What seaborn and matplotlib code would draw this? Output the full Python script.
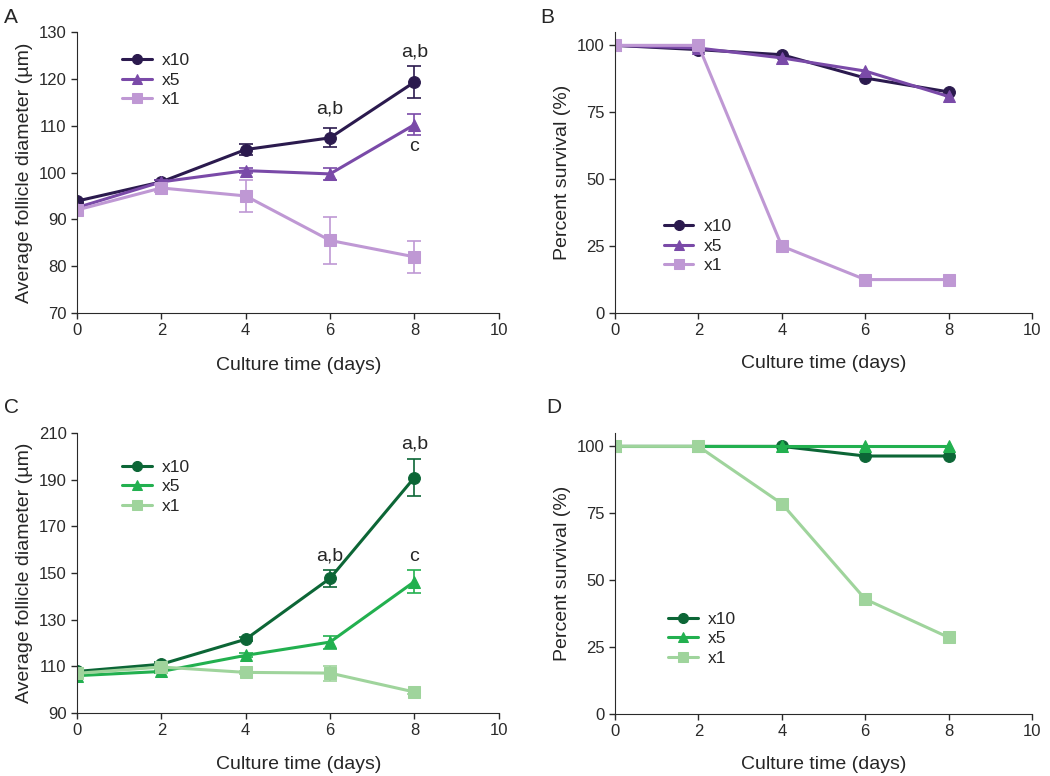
import numpy as np
import pandas as pd
import seaborn as sns
import matplotlib.pyplot as plt

# dados
days = [0, 2, 4, 6, 8]
groups = ['x10', 'x5', 'x1']

# A: diametro medio (roxo)
diam_a = {'x10': [93.9, 98.0, 104.9, 107.4, 119.3],
          'x5': [92.5, 98.0, 100.4, 99.7, 110.2],
          'x1': [92.0, 96.7, 95.0, 85.5, 82.0]}
err_a = {'x10': [0.5, 0.5, 1.2, 2.0, 3.5],
         'x5': [0.5, 0.5, 0.5, 1.2, 2.2],
         'x1': [0.5, 0.8, 3.4, 5.1, 3.4]}

# B: sobrevivencia (roxo)
surv_b = {'x10': [100, 98.4, 96.5, 87.8, 82.6],
          'x5': [100, 99.0, 95.3, 90.4, 80.9],
          'x1': [100, 100, 25, 12.5, 12.5]}

# C: diametro medio (verde)
diam_c = {'x10': [107.8, 110.9, 121.6, 147.7, 190.9],
          'x5': [106.0, 107.8, 114.7, 120.4, 146.3],
          'x1': [107.0, 109.7, 107.4, 107.1, 99.0]}
err_c = {'x10': [0.8, 0.8, 0.8, 3.6, 8.0],
         'x5': [0.8, 0.8, 0.8, 2.8, 4.8],
         'x1': [0.8, 0.8, 0.8, 3.2, 1.0]}

# D: sobrevivencia (verde)
surv_d = {'x10': [100, 100, 100, 96.4, 96.4],
          'x5': [100, 100, 100, 100, 100],
          'x1': [100, 100, 78.6, 42.9, 28.6]}

purples = {'x10': '#2b1a4e', 'x5': '#7a4aa8', 'x1': '#bf98d4'}
greens = {'x10': '#0c6636', 'x5': '#22b04f', 'x1': '#9fd49c'}
markers = {'x10': 'o', 'x5': '^', 'x1': 's'}

sns.set_style('ticks')
plt.rcParams['font.family'] = ['Liberation Sans', 'DejaVu Sans']
plt.rcParams['axes.edgecolor'] = '#2a2a2a'
plt.rcParams['xtick.color'] = '#2a2a2a'
plt.rcParams['ytick.color'] = '#2a2a2a'

fig = plt.figure(figsize=(10.5, 7.76), dpi=100)
axA = fig.add_axes([0.0733, 0.5966, 0.4017, 0.3622])
axB = fig.add_axes([0.5857, 0.5966, 0.3972, 0.3622])
axC = fig.add_axes([0.0733, 0.0812, 0.4017, 0.3608])
axD = fig.add_axes([0.5857, 0.0800, 0.3972, 0.3620])


def draw(ax, vals, cols, errs=None):
    for g in groups:
        sns.lineplot(x=days, y=vals[g], ax=ax, color=cols[g], marker=markers[g],
                     markersize=8.5, markeredgecolor=cols[g], linewidth=2.2,
                     label=g)
        if errs is not None:
            ax.errorbar(days, vals[g], yerr=errs[g], fmt='none', ecolor=cols[g],
                        elinewidth=1.2, capsize=5, capthick=1.2)
    ax.set_xlim(0, 10)
    ax.set_xticks(range(0, 11, 2))
    ax.set_xlabel('Culture time (days)', fontsize=14, labelpad=12)
    ax.tick_params(labelsize=12, length=4, width=1)
    sns.despine(ax=ax)


def legend(ax, anchor):
    ax.legend(loc='upper left', bbox_to_anchor=anchor, frameon=False,
              fontsize=12.5, handlelength=1.7, labelspacing=0.25,
              markerscale=0.85, handletextpad=0.6)


draw(axA, diam_a, purples, err_a)
axA.set_ylim(70, 130)
axA.set_yticks(range(70, 131, 10))
axA.set_ylabel('Average follicle diameter (\u00b5m)', fontsize=14)
axA.xaxis.set_label_coords(0.525, -0.155)
axA.text(6, 111.8, 'a,b', ha='center', va='bottom', fontsize=14)
axA.text(8, 124.0, 'a,b', ha='center', va='bottom', fontsize=14)
axA.text(8, 107.3, 'c', ha='center', va='top', fontsize=14)
legend(axA, (0.07, 0.98))

draw(axB, surv_b, purples)
axB.set_ylim(0, 105)
axB.set_yticks([0, 25, 50, 75, 100])
axB.set_ylabel('Percent survival (%)', fontsize=14)
legend(axB, (0.08, 0.39))

draw(axC, diam_c, greens, err_c)
axC.set_ylim(90, 210)
axC.set_yticks(range(90, 211, 20))
axC.set_ylabel('Average follicle diameter (\u00b5m)', fontsize=14)
axC.xaxis.set_label_coords(0.525, -0.155)
axC.text(6, 153.5, 'a,b', ha='center', va='bottom', fontsize=14)
axC.text(8, 201.5, 'a,b', ha='center', va='bottom', fontsize=14)
axC.text(8, 153.5, 'c', ha='center', va='bottom', fontsize=14)
legend(axC, (0.07, 0.96))

draw(axD, surv_d, greens)
axD.set_ylim(0, 105)
axD.set_yticks([0, 25, 50, 75, 100])
axD.set_ylabel('Percent survival (%)', fontsize=14)
legend(axD, (0.09, 0.42))

for lbl, x, y in [('A', 0.004, 0.978), ('B', 0.515, 0.978),
                  ('C', 0.004, 0.475), ('D', 0.52, 0.475)]:
    fig.text(x, y, lbl, fontsize=15, ha='left', va='center')

fig.savefig('out.png', dpi=100)
